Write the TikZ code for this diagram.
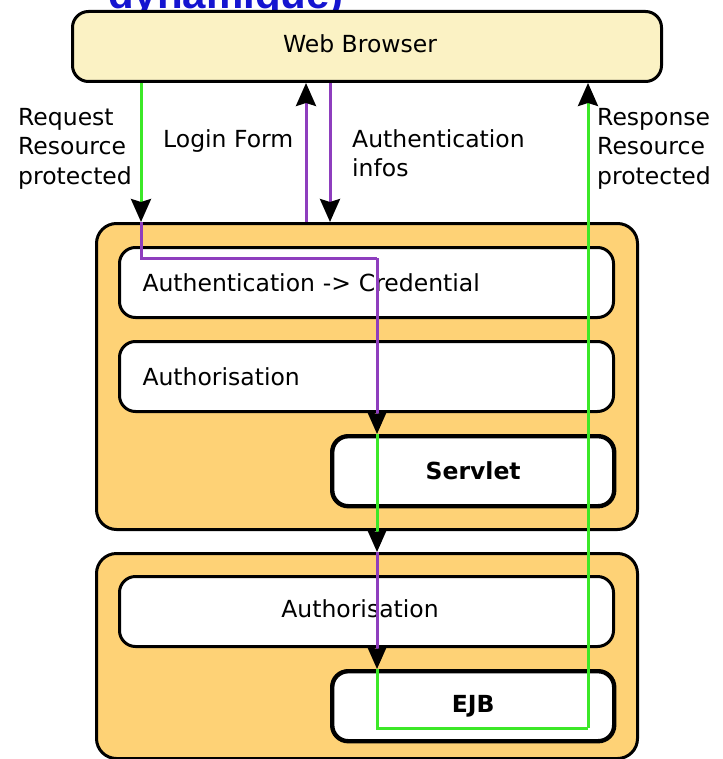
\documentclass[tikz,border=0pt]{standalone}
\usepackage{fontspec}
\setmainfont{DejaVu Sans}
\newfontfamily\headfont{Liberation Sans}
\usetikzlibrary{arrows.meta}
\definecolor{browserfill}{RGB}{251,242,196}
\definecolor{contfill}{RGB}{254,210,118}
\definecolor{flowgreen}{RGB}{60,232,40}
\definecolor{flowpurple}{RGB}{142,62,190}
\definecolor{headblue}{RGB}{20,20,208}
\begin{document}
\begin{tikzpicture}[x=1pt,y=-1pt,
  every node/.style={font=\fontsize{23.5}{29.5}\selectfont},
  roundbox/.style={draw=black, line width=3pt, rounded corners=16pt, inner sep=0pt, anchor=north west},
  container/.style={roundbox, fill=contfill, rounded corners=20pt},
  layerbox/.style={roundbox, fill=white, minimum width=494, minimum height=70},
  compbox/.style={roundbox, fill=white, line width=4.4pt, minimum width=282, minimum height=70,
    font=\fontsize{23.5}{29.5}\selectfont\bfseries},
  tipstyle/.style={-{Stealth[length=23pt,width=20pt,inset=3pt,color=black]}},
  gline/.style={draw=flowgreen, line width=3pt},
  pline/.style={draw=flowpurple, line width=3pt},
  lbl/.style={align=left, inner sep=0pt, anchor=north west}
]
\useasboundingbox (0,0) rectangle (722,759);
% cut-off heading
\node[anchor=base west, inner sep=0pt, text=headblue, font=\headfont\fontsize{42}{48}\selectfont\bfseries] (head) at (108,9) {dynamique)};
% browser
\node[roundbox, fill=browserfill, minimum width=589, minimum height=70] (browser) at (71,10) {};
\node[inner sep=0pt] (browsertxt) at (360,44) {Web Browser};
% containers
\node[container, minimum width=541, minimum height=306] (c1) at (95,222) {};
\node[container, minimum width=541, minimum height=205] (c2) at (95,552) {};
% layers
\node[layerbox, text width=448, inner xsep=23pt, align=left] (auth) at (118,246) {Authentication -> Credential};
\node[layerbox, text width=448, inner xsep=23pt, align=left] (authz) at (118,340) {Authorisation};
\node[compbox] (servlet) at (330,434) {Servlet};
\node[layerbox] (authzb) at (118,575) {};
\node[inner sep=0pt] (authzbtxt) at (360,609) {Authorisation};
\node[compbox] (ejb) at (330,669) {EJB};
% labels
\node[lbl] (req) at (18,108) {Request\\Resource\\protected};
\node[lbl] (login) at (163,129) {Login Form};
\node[lbl] (authinfo) at (352,129) {Authentication\\infos};
\node[lbl] (resp) at (597,108) {Response\\Resource\\protected};
% coordinates for the flow
\coordinate (turnA) at (141,258);
\coordinate (turnB) at (377,258);
\coordinate (turnC) at (377,728);
\coordinate (turnD) at (588,728);
% connectors
\draw[gline, tipstyle] (141,0 |- browser.south) -- (141,0 |- c1.north);
\draw[pline] (141,0 |- c1.north) -- (turnA) -- (turnB);
\draw[pline, tipstyle] (turnB) -- (377,0 |- servlet.north);
\draw[gline, tipstyle] (377,0 |- servlet.north) -- (377,0 |- c2.north);
\draw[pline, tipstyle] (377,0 |- c2.north) -- (377,0 |- ejb.north);
\draw[gline] (377,0 |- ejb.north) -- (turnC) -- (turnD);
\draw[gline, tipstyle] (turnD) -- (588,0 |- browser.south);
\draw[pline, tipstyle] (306,0 |- c1.north) -- (306,0 |- browser.south);
\draw[pline, tipstyle] (330,0 |- browser.south) -- (330,0 |- c1.north);
\end{tikzpicture}
\end{document}
